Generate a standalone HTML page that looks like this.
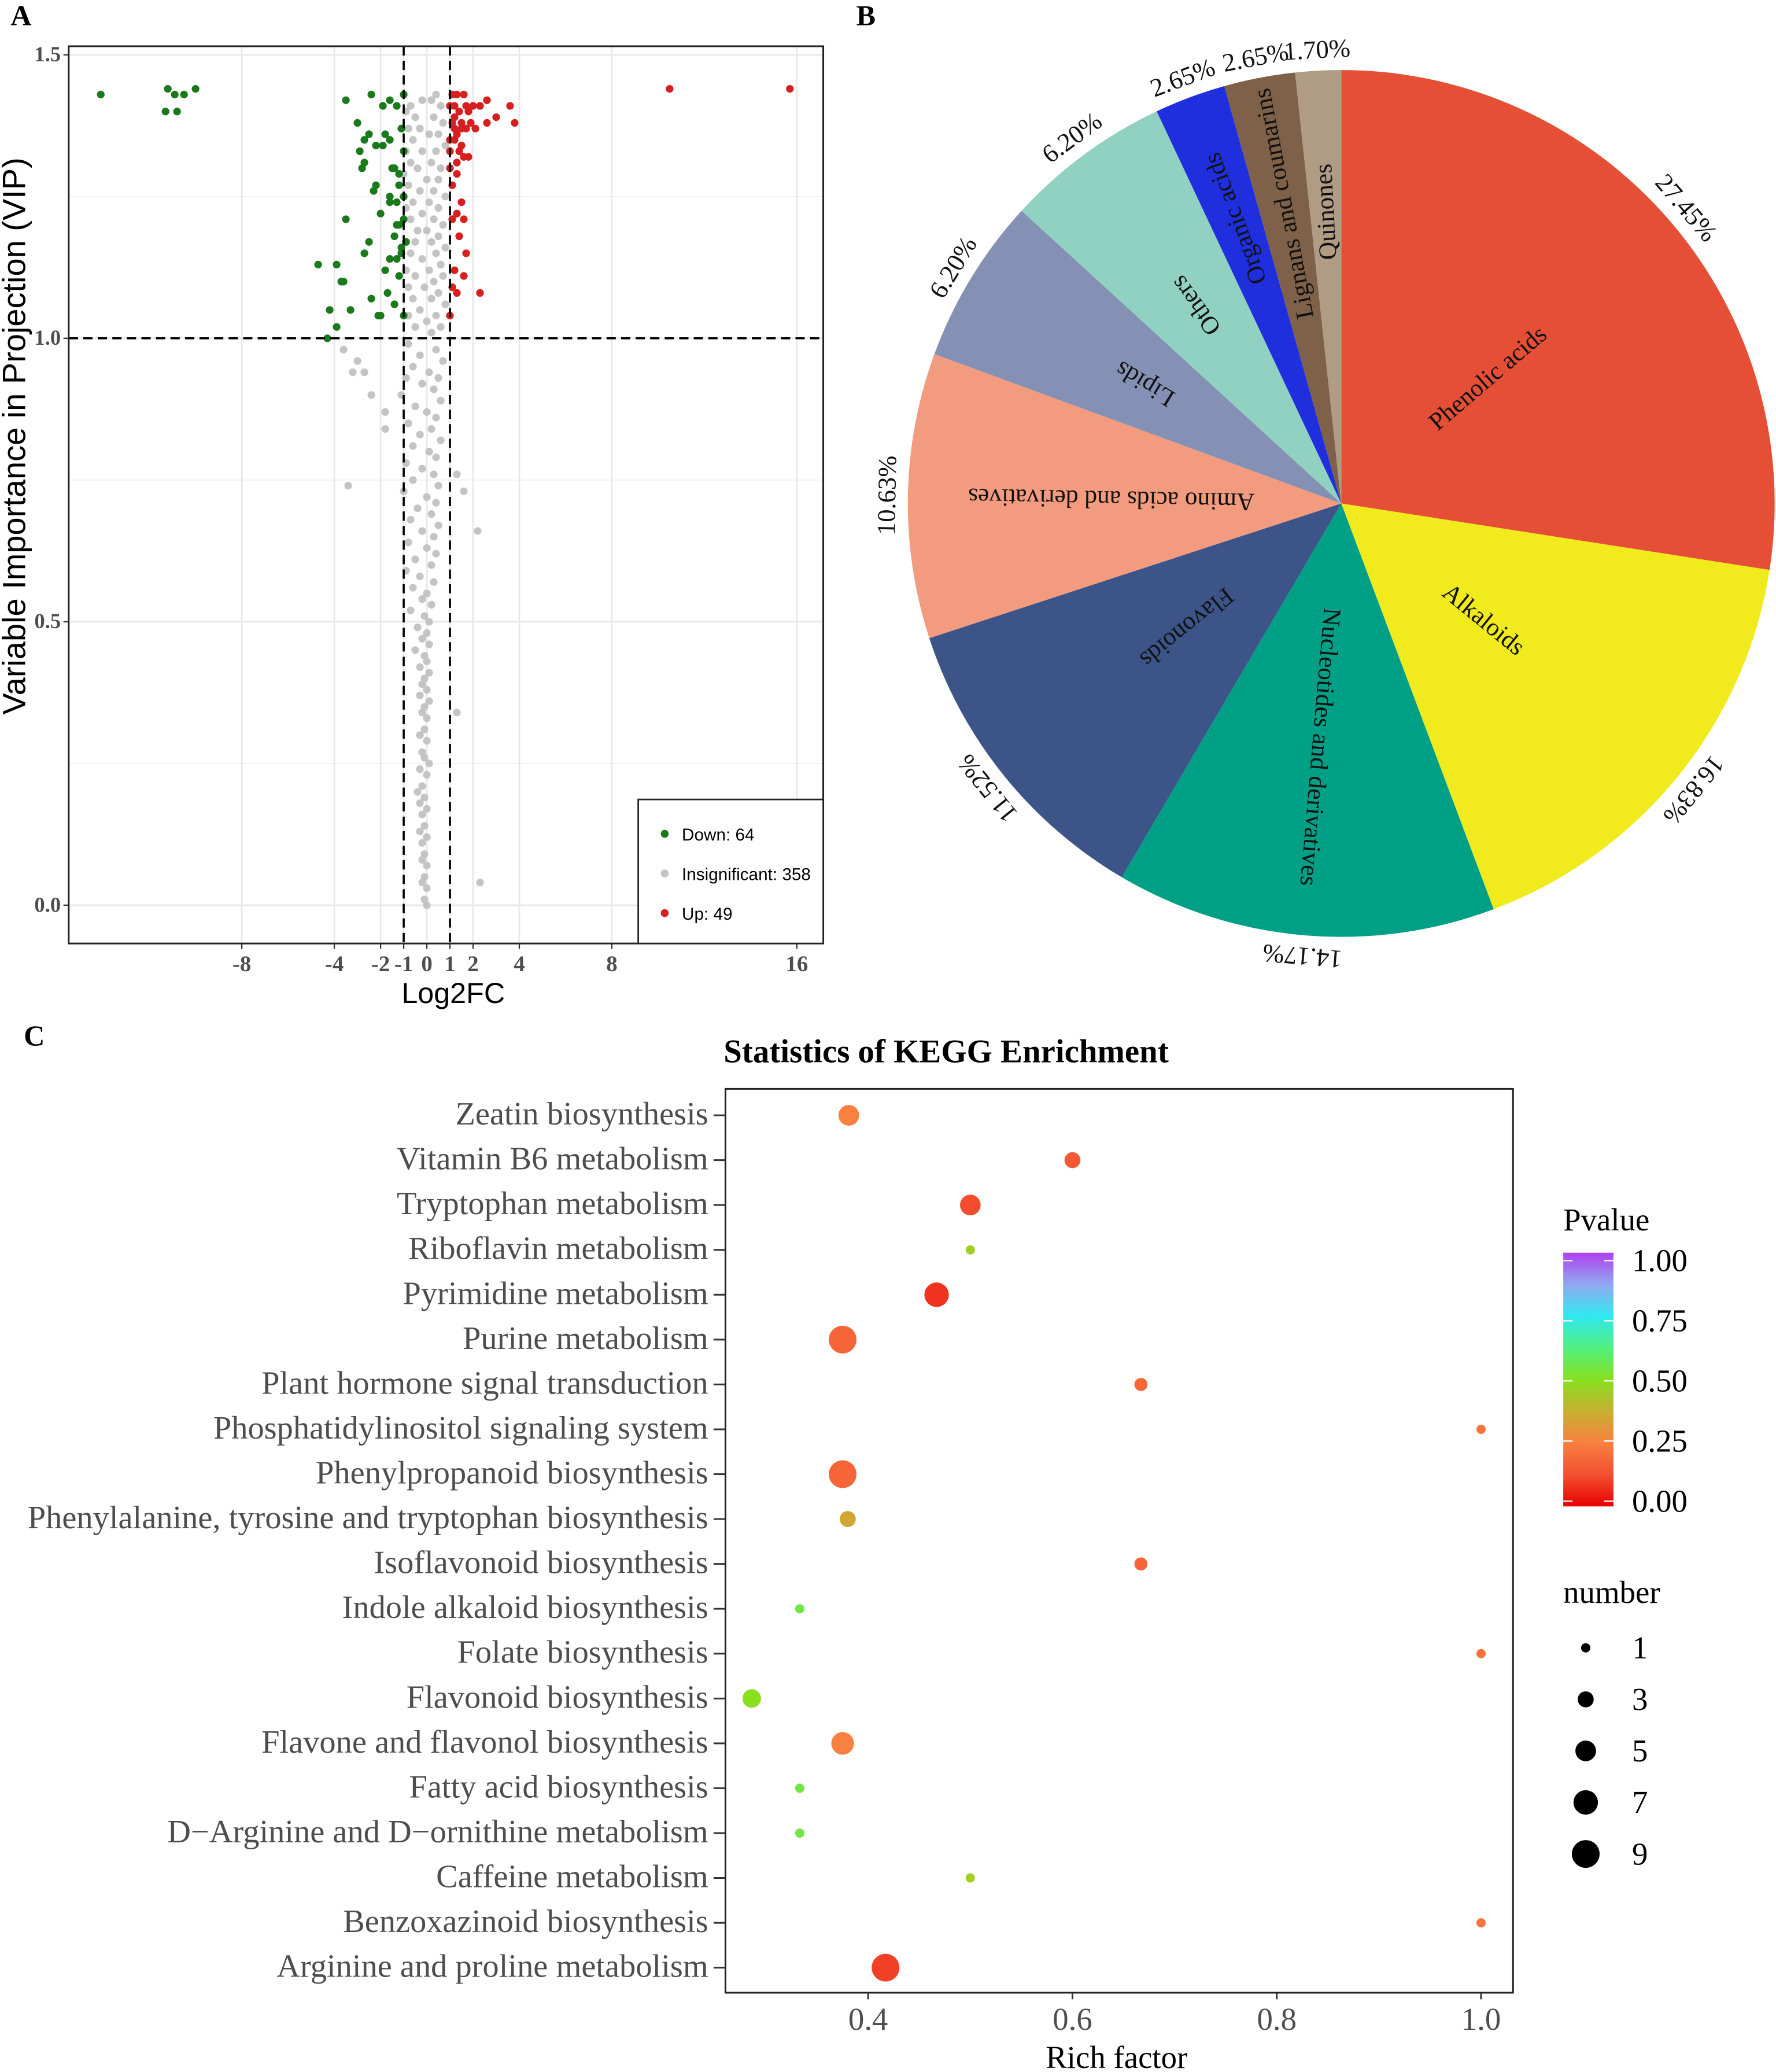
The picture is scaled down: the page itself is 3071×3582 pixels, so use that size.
<!DOCTYPE html>
<html><head><meta charset="utf-8"><style>
html,body{margin:0;padding:0;background:#fff}
svg{display:block}
.t{font-family:"Liberation Serif",serif}
.s{font-family:"Liberation Sans",sans-serif}
</style></head><body>
<svg id="fig" xmlns="http://www.w3.org/2000/svg" width="3071" height="3582" viewBox="0 0 1344 1568" preserveAspectRatio="none">
<rect x="0" y="0" width="1344" height="1568" fill="#fff"/>
<text class="t" x="8" y="19" font-size="22" font-weight="bold">A</text>
<text class="t" x="648" y="19" font-size="22" font-weight="bold">B</text>
<text class="t" x="18" y="791" font-size="22" font-weight="bold">C</text>
<g id="gA"></g>
<g id="gB"></g>
<g id="gC"></g>
</svg>
<script>
// ---------- Panel A data ----------
const downPoints=[[-14.1,1.43],[-11.2,1.44],[-10.9,1.43],[-10.5,1.43],[-10,1.44],[-11.3,1.40],[-10.8,1.40],
[-3.5,1.42],[-2.4,1.43],[-1.6,1.42],[-1.0,1.43],[-1.9,1.41],[-1.3,1.41],[-3.0,1.38],[-2.5,1.36],[-2.7,1.35],[-2.2,1.34],[-1.9,1.34],[-1.6,1.35],[-2.7,1.31],[-2.8,1.30],[-1.4,1.30],[-1.2,1.29],[-2.2,1.27],[-1.2,1.27],[-1.0,1.33],[-1.6,1.25],[-1.3,1.24],[-1.0,1.25],[-2.0,1.22],[-1.6,1.24],[-1.0,1.21],[-1.2,1.20],[-3.5,1.21],[-1.4,1.18],[-0.9,1.17],[-2.7,1.15],[-1.6,1.14],[-1.3,1.14],[-1.1,1.15],[-1.8,1.12],[-4.7,1.13],[-3.9,1.13],[-3.7,1.10],[-3.6,1.10],[-2.4,1.07],[-1.4,1.06],[-4.2,1.05],[-3.3,1.05],[-2.1,1.04],[-2.0,1.04],[-1.0,1.04],[-3.9,1.02],[-4.3,1.00],[-1.1,1.16],[-1.5,1.30],[-2.3,1.26],[-1.8,1.36],[-2.9,1.33],[-1.1,1.37],[-1.3,1.20],[-2.5,1.17],[-1.7,1.08],[-1.2,1.11]];
const upPoints=[[10.5,1.44],[15.7,1.44],[1.1,1.43],[1.6,1.43],[1.2,1.41],[1.4,1.40],[1.7,1.41],[2.0,1.41],[2.6,1.42],[2.3,1.41],[3.6,1.41],[1.1,1.38],[1.5,1.38],[1.9,1.38],[3.0,1.39],[3.8,1.38],[2.6,1.38],[1.3,1.36],[1.7,1.37],[1.0,1.35],[1.2,1.35],[1.4,1.33],[1.8,1.32],[1.6,1.32],[1.3,1.31],[1.3,1.29],[1.1,1.27],[1.1,1.21],[1.3,1.22],[1.6,1.21],[1.4,1.18],[1.7,1.15],[1.6,1.11],[1.1,1.09],[1.3,1.08],[2.3,1.08],[1.0,1.04],[1.0,1.30],[1.5,1.37],[1.2,1.39],[2.1,1.37],[1.8,1.40],[1.0,1.41],[1.3,1.43],[1.5,1.34],[1.2,1.37],[1.0,1.33],[1.5,1.24],[1.2,1.12]];
const insigPoints=[[0.4,1.43],[0.2,1.42],[-0.7,1.41],[-0.2,1.42],[0.6,1.41],[-0.9,1.40],[-0.5,1.39],[0.3,1.39],[0.7,1.38],[-0.8,1.37],[-0.3,1.37],[0.1,1.36],[0.5,1.36],[-0.6,1.35],[0.8,1.34],[-0.9,1.33],[-0.2,1.33],[0.4,1.33],[-0.7,1.31],[0.2,1.31],[0.6,1.30],[-0.4,1.30],[-1.0,1.29],[0.0,1.28],[0.5,1.28],[-0.8,1.27],[-0.3,1.26],[0.3,1.26],[0.8,1.25],[-0.6,1.24],[0.1,1.24],[-0.9,1.23],[0.5,1.23],[-0.2,1.22],[-0.7,1.21],[0.3,1.21],[0.7,1.20],[-0.4,1.19],[0.0,1.19],[0.5,1.18],[-0.9,1.17],[-0.5,1.17],[0.2,1.17],[0.8,1.16],[-0.7,1.15],[0.4,1.15],[-0.2,1.14],[0.6,1.13],[-0.9,1.12],[0.1,1.12],[-0.5,1.11],[0.7,1.11],[0.3,1.10],[-0.8,1.09],[-0.1,1.09],[0.5,1.08],[-0.6,1.07],[0.2,1.07],[0.8,1.06],[-0.3,1.05],[-0.8,1.04],[0.4,1.04],[0.0,1.03],[-0.5,1.02],[0.6,1.02],[0.2,1.01],
[-0.8,0.99],[0.4,0.98],[-0.3,0.97],[0.7,0.96],[-0.6,0.95],[0.1,0.94],[-0.9,0.93],[0.5,0.93],[-0.2,0.92],[0.3,0.91],[-1.1,0.90],[0.6,0.89],[-0.5,0.88],[0.0,0.87],[0.4,0.86],[-0.8,0.85],[0.2,0.84],[-0.3,0.83],[0.6,0.82],[-0.6,0.81],[0.1,0.80],[0.4,0.79],[-0.9,0.78],[-0.2,0.77],[0.3,0.76],[-0.6,0.75],[0.5,0.74],[-1.0,0.73],[0.0,0.72],[0.4,0.71],[-0.4,0.70],[0.2,0.69],[-0.7,0.68],[0.5,0.67],[-0.2,0.66],[0.3,0.65],[-0.8,0.64],[0.0,0.63],[0.4,0.62],[-0.5,0.61],[0.2,0.60],[-0.9,0.59],[-0.3,0.58],[0.3,0.57],[-0.6,0.56],[0.0,0.55],[-0.2,0.54],[0.2,0.53],[-0.7,0.52],[-0.1,0.51],[0.1,0.50],[-0.4,0.49],[0.0,0.48],[-0.2,0.47],[0.1,0.46],[-0.5,0.45],[-0.1,0.44],[0.0,0.43],[-0.3,0.42],[0.1,0.41],[-0.1,0.40],[-0.2,0.39],[0.0,0.38],[-0.3,0.37],[0.1,0.36],[-0.1,0.35],[-0.2,0.34],[0.0,0.33],[-0.1,0.31],[-0.3,0.30],[0.0,0.29],[-0.2,0.27],[-0.1,0.26],[0.1,0.25],[-0.3,0.24],[0.0,0.23],[-0.2,0.21],[-0.4,0.20],[-0.1,0.19],[-0.3,0.18],[0.0,0.17],[-0.2,0.16],[-0.1,0.14],[-0.3,0.13],[0.0,0.12],[-0.2,0.11],[-0.1,0.09],[-0.2,0.08],[0.0,0.07],[-0.1,0.05],[-0.2,0.04],[0.0,0.03],[-0.1,0.01],[0.0,0.0],
[-3.6,0.98],[-3.0,0.96],[-3.2,0.94],[-2.7,0.94],[-2.4,0.90],[-1.8,0.87],[-1.8,0.84],[-3.4,0.74],[1.3,0.76],[1.6,0.73],[2.2,0.66],[1.3,0.34],[2.3,0.04]];
const aXTicks=[-8,-4,-2,-1,0,1,2,4,8,16];
const aYTicks=[0,0.5,1.0,1.5];
const aYTickLabels=["0.0","0.5","1.0","1.5"];
const legendLabels=["Down: 64","Insignificant: 358","Up: 49"];

// ---------- Panel B data ----------
const pieCategories=["Phenolic acids","Alkaloids","Nucleotides and derivatives","Flavonoids","Amino acids and derivatives","Lipids","Others","Organic acids","Lignans and coumarins","Quinones"];
const pieValues=[27.45,16.83,14.17,11.52,10.63,6.20,6.20,2.65,2.65,1.70];
const pieLabels=["27.45%","16.83%","14.17%","11.52%","10.63%","6.20%","6.20%","2.65%","2.65%","1.70%"];

// ---------- Panel C data ----------
const pathways=["Zeatin biosynthesis","Vitamin B6 metabolism","Tryptophan metabolism","Riboflavin metabolism","Pyrimidine metabolism","Purine metabolism","Plant hormone signal transduction","Phosphatidylinositol signaling system","Phenylpropanoid biosynthesis","Phenylalanine, tyrosine and tryptophan biosynthesis","Isoflavonoid biosynthesis","Indole alkaloid biosynthesis","Folate biosynthesis","Flavonoid biosynthesis","Flavone and flavonol biosynthesis","Fatty acid biosynthesis","D\u2212Arginine and D\u2212ornithine metabolism","Caffeine metabolism","Benzoxazinoid biosynthesis","Arginine and proline metabolism"];
const richFactor=[0.381,0.6,0.5,0.5,0.467,0.375,0.667,1.0,0.375,0.38,0.667,0.333,1.0,0.286,0.375,0.333,0.333,0.5,1.0,0.417];
const pValues=[0.25,0.15,0.12,0.45,0.08,0.18,0.18,0.22,0.18,0.35,0.18,0.55,0.22,0.5,0.25,0.55,0.55,0.45,0.22,0.1];
const geneNumber=[5,3,5,1,7,9,2,1,9,3,2,1,1,4,6,1,1,1,1,9];
const cXTicks=[0.4,0.6,0.8,1.0];
const cXTickLabels=["0.4","0.6","0.8","1.0"];
const pTicks=[1.0,0.75,0.5,0.25,0.0];
const pTickLabels=["1.00","0.75","0.50","0.25","0.00"];
const sizeLegend=[1,3,5,7,9];

const NS="http://www.w3.org/2000/svg";
function mk(tag,parent,attrs){const e=document.createElementNS(NS,tag);for(const k in attrs)e.setAttribute(k,attrs[k]);parent.appendChild(e);return e;}

// ===== Panel A =====
(function(){
const g=document.getElementById('gA');
const L=52,R=623,T=35,B=714;
const xs=v=>323+v*17.5, ys=v=>685-v*429;
[0.25,0.75,1.25].forEach(v=>{const l=mk('line',g,{x1:L,x2:R,y1:ys(v),y2:ys(v),stroke:'#f2f2f2','stroke-width':0.8});

});
aYTicks.forEach(v=>{const l=mk('line',g,{x1:L,x2:R,y1:ys(v),y2:ys(v),stroke:'#e8e8e8','stroke-width':1.2});

});
aXTicks.forEach(v=>{const l=mk('line',g,{x1:xs(v),x2:xs(v),y1:T,y2:B,stroke:'#e8e8e8','stroke-width':1.2});

});
function pts(arr,col,name){arr.forEach(p=>{const c=mk('circle',g,{cx:xs(p[0]),cy:ys(p[1]),r:2.9,fill:col});

});}
pts(insigPoints,'#c4c4c4','insignificant-point');
pts(downPoints,'#1a7a1a','down-point');
pts(upPoints,'#d71f1f','up-point');
[-1,1].forEach(v=>{const l=mk('line',g,{x1:xs(v),x2:xs(v),y1:T,y2:B,stroke:'#000','stroke-width':1.6,'stroke-dasharray':'7,4'});

});
const h=mk('line',g,{x1:L,x2:R,y1:ys(1),y2:ys(1),stroke:'#000','stroke-width':1.6,'stroke-dasharray':'7,4'});


const box=mk('rect',g,{x:L,y:T,width:R-L,height:B-T,fill:'none',stroke:'#222','stroke-width':1.3});


aYTicks.forEach((v,i)=>{const tk=mk('line',g,{x1:L-4,x2:L,y1:ys(v),y2:ys(v),stroke:'#333','stroke-width':1});


const t=mk('text',g,{x:L-6,y:ys(v)+5,'text-anchor':'end','font-size':16,'font-weight':'bold',fill:'#4d4d4d',class:'t'});t.textContent=aYTickLabels[i];

});
aXTicks.forEach(v=>{const tk=mk('line',g,{x1:xs(v),x2:xs(v),y1:B,y2:B+4,stroke:'#333','stroke-width':1});


const t=mk('text',g,{x:xs(v),y:B+21,'text-anchor':'middle','font-size':17,'font-weight':'bold',fill:'#4d4d4d',class:'t'});t.textContent=String(v);

});
const xt=mk('text',g,{x:343,y:759,'text-anchor':'middle','font-size':22,fill:'#000',class:'s'});xt.textContent='Log2FC';


const yt=mk('text',g,{x:0,y:0,'text-anchor':'middle','font-size':24.5,fill:'#000',class:'s',transform:'translate(19,330) rotate(-90)'});yt.textContent='Variable Importance in Projection (VIP)';


const lb=mk('rect',g,{x:483,y:605,width:140,height:109,fill:'#fff',stroke:'#222','stroke-width':1.2});


const lc=['#1a7a1a','#c4c4c4','#d71f1f'];
legendLabels.forEach((s,i)=>{const y=631+i*30;
const c=mk('circle',g,{cx:503,cy:y,r:3,fill:lc[i]});


const t=mk('text',g,{x:516,y:y+5,'font-size':13,fill:'#000',class:'s'});t.textContent=s;

});
})();

// ===== Panel B =====
(function(){
const g=document.getElementById('gB');
const cx=1015,cy=381,R=328;
const colors=['#e44f35','#f1eb1d','#00a087','#3c5488','#f39b7f','#8491b4','#91d1c2','#1f2fde','#7e6148','#b09c85'];
const labelR=[146,139,185,150,174,174,186,230,231,221];
const total=pieValues.reduce((a,b)=>a+b,0);
let acc=0;
pieValues.forEach((v,i)=>{
 const a0=acc/total*2*Math.PI, a1=(acc+v)/total*2*Math.PI; acc+=v;
 const p=(a,r)=>[cx+r*Math.sin(a),cy-r*Math.cos(a)];
 const s=p(a0,R),e=p(a1,R);
 const path=mk('path',g,{d:`M${cx},${cy} L${s[0]},${s[1]} A${R},${R} 0 ${a1-a0>Math.PI?1:0} 1 ${e[0]},${e[1]} Z`,fill:colors[i]});
 
 
 const mid=(a0+a1)/2, deg=mid*180/Math.PI;
 const lp=p(mid,labelR[i]);
 const t=mk('text',g,{x:lp[0],y:lp[1],'text-anchor':'middle','dominant-baseline':'central','font-size':19,fill:'#111',class:'t',transform:`rotate(${deg-90},${lp[0]},${lp[1]})`});t.textContent=pieCategories[i];
 
 
 const op=p(mid,R+16);
 const t2=mk('text',g,{x:op[0],y:op[1],'text-anchor':'middle','dominant-baseline':'central','font-size':19.5,fill:'#111',class:'t',transform:`rotate(${deg},${op[0]},${op[1]})`});t2.textContent=pieLabels[i];
 
 
});
})();

// ===== Panel C =====
(function(){
const g=document.getElementById('gC');
const L=549,R=1145,T=824,B=1508;
const xs=v=>657+(v-0.4)*773, ys=i=>844+i*33.95;
const stops=[[0,[232,0,0]],[0.125,[242,80,48]],[0.25,[248,128,64]],[0.375,[200,176,48]],[0.5,[136,224,32]],[0.625,[80,240,128]],[0.75,[48,232,240]],[0.875,[144,168,240]],[1,[176,64,240]]];
function col(p){for(let k=1;k<stops.length;k++){if(p<=stops[k][0]){const a=stops[k-1],b=stops[k],f=(p-a[0])/(b[0]-a[0]);return 'rgb('+a[1].map((c,j)=>Math.round(c+(b[1][j]-c)*f)).join(',')+')';}}return 'rgb(176,64,240)';}
const rad=n=>Math.sqrt(n)*3.5;
const tt=mk('text',g,{x:716,y:804,'text-anchor':'middle','font-size':24.9,'font-weight':'bold',fill:'#000',class:'t'});tt.textContent='Statistics of KEGG Enrichment';


const box=mk('rect',g,{x:L,y:T,width:R-L,height:B-T,fill:'#fff',stroke:'#222','stroke-width':1.3});


pathways.forEach((s,i)=>{const y=ys(i);
 const tk=mk('line',g,{x1:L-9,x2:L,y1:y,y2:y,stroke:'#333','stroke-width':1.3});
 
 
 const t=mk('text',g,{x:L-13,y:y+7,'text-anchor':'end','font-size':24.7,fill:'#4d4d4d',class:'t'});t.textContent=s;
 
 
 const c=mk('circle',g,{cx:xs(richFactor[i]),cy:y,r:rad(geneNumber[i]),fill:col(pValues[i])});
 
 
});
cXTicks.forEach((v,i)=>{const tk=mk('line',g,{x1:xs(v),x2:xs(v),y1:B,y2:B+5,stroke:'#333','stroke-width':1.3});
 
 
 const t=mk('text',g,{x:xs(v),y:B+28,'text-anchor':'middle','font-size':24,fill:'#4d4d4d',class:'t'});t.textContent=cXTickLabels[i];
 
 });
const xt=mk('text',g,{x:845,y:1565,'text-anchor':'middle','font-size':24,fill:'#000',class:'t'});xt.textContent='Rich factor';


const pt=mk('text',g,{x:1183,y:931,'font-size':24,fill:'#000',class:'t'});pt.textContent='Pvalue';


const defs=mk('defs',g,{});
const lg=mk('linearGradient',defs,{id:'pg',x1:0,y1:1,x2:0,y2:0});
stops.forEach(s=>mk('stop',lg,{offset:s[0],'stop-color':'rgb('+s[1].join(',')+')'}));
const cbT=948,cbB=1140, py=p=>cbB-4-(cbB-4-(cbT+6))*p;
const cb=mk('rect',g,{x:1183,y:cbT,width:38,height:cbB-cbT,fill:'url(#pg)'});


pTicks.forEach((v,i)=>{const y=py(v);
 const a=mk('line',g,{x1:1183,x2:1190,y1:y,y2:y,stroke:'#fff','stroke-width':1});
 
 
 const b=mk('line',g,{x1:1214,x2:1221,y1:y,y2:y,stroke:'#fff','stroke-width':1});
 
 
 const t=mk('text',g,{x:1235,y:y+8,'font-size':24,fill:'#000',class:'t'});t.textContent=pTickLabels[i];
 
 });
const nt=mk('text',g,{x:1183,y:1213,'font-size':24,fill:'#000',class:'t'});nt.textContent='number';


sizeLegend.forEach((n,i)=>{const y=1247+i*39;
 const c=mk('circle',g,{cx:1200,cy:y,r:rad(n),fill:'#000'});
 
 
 const t=mk('text',g,{x:1235,y:y+8,'font-size':24,fill:'#000',class:'t'});t.textContent=String(n);
 
 });
})();
</script>
</body></html>
